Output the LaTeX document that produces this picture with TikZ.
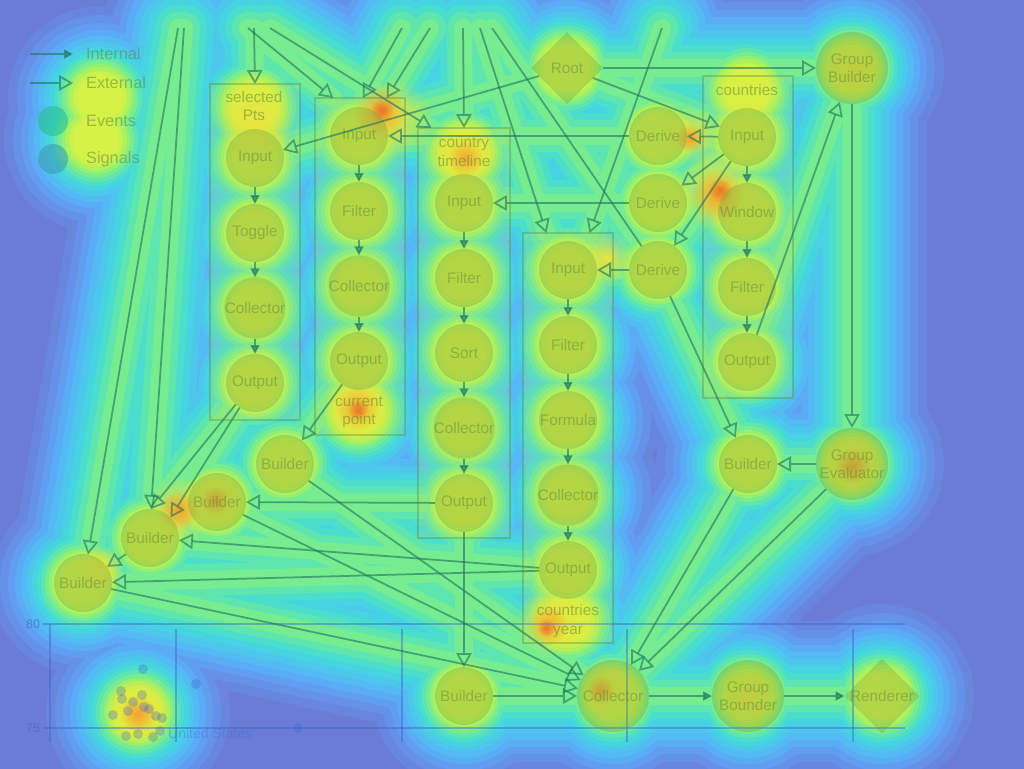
\documentclass[tikz,border=0pt]{standalone}
\usepackage{fontspec}
\setmainfont{Liberation Sans}
\usetikzlibrary{arrows.meta,shapes.geometric,backgrounds,fadings}

\definecolor{bgblue}{RGB}{106,124,214}
\definecolor{c1}{RGB}{104,134,222}
\definecolor{c2}{RGB}{101,146,232}
\definecolor{c3}{RGB}{97,158,242}
\definecolor{c4}{RGB}{90,172,246}
\definecolor{c5}{RGB}{84,186,243}
\definecolor{c6}{RGB}{77,200,236}
\definecolor{c7}{RGB}{70,212,226}
\definecolor{c8}{RGB}{75,222,205}
\definecolor{c9}{RGB}{95,230,175}
\definecolor{c10}{RGB}{120,236,145}
\definecolor{c11}{RGB}{148,240,115}
\definecolor{c12}{RGB}{175,241,95}
\definecolor{c13}{RGB}{200,242,80}
\definecolor{c14}{RGB}{215,242,70}
\definecolor{hot1}{RGB}{236,228,62}
\definecolor{hot2}{RGB}{245,160,48}
\definecolor{hot3}{RGB}{236,98,36}
\definecolor{linec}{RGB}{30,115,90}
\definecolor{nodec}{RGB}{110,165,70}
\definecolor{textc}{RGB}{90,130,60}
\definecolor{evc}{RGB}{40,190,140}
\definecolor{sigc}{RGB}{60,150,175}
\definecolor{axc}{RGB}{60,100,200}

\tikzfading[name=fuzzy, inner color=transparent!0, outer color=transparent!100]

\tikzset{
  op/.style={circle, minimum size=1.16cm, inner sep=0pt, outer sep=0pt,
    fill=nodec, fill opacity=0.35, text=textc, text opacity=0.45,
    font=\fontsize{8.7}{10.5}\selectfont, align=center},
  bigop/.style={op, minimum size=1.44cm},
  diam/.style={op, diamond, minimum size=1.44cm},
  grp/.style={draw=textc, draw opacity=0.35, line width=1pt, fill=hot1,
    fill opacity=0.15, inner sep=0pt, outer sep=0pt, minimum width=1.8cm},
  lbl/.style={text=textc, text opacity=0.5, align=center,
    font=\fontsize{8.7}{10.5}\selectfont, inner sep=1pt},
  legtxt/.style={lbl, anchor=west, font=\fontsize{9.3}{11}\selectfont},
  legdot/.style={circle, minimum size=0.6cm, inner sep=0pt, fill opacity=0.55},
  link/.style={draw=linec, opacity=0.6, line width=1pt},
  extarr/.style={link, -{Triangle[open, length=2.8mm, width=3.1mm]}},
  intarr/.style={link, -{Triangle[length=1.8mm, width=1.8mm]}},
  plainarr/.style={link},
  axis/.style={draw=axc, opacity=0.45, line width=0.8pt},
  axlbl/.style={text=axc, text opacity=0.6, font=\fontsize{7}{8}\selectfont, inner sep=1pt}
}

\begin{document}
\begin{tikzpicture}[x=0.02cm, y=-0.02cm]
\useasboundingbox (0,0) rectangle (1024,768);

% legend
\coordinate (li0) at (30,54); \coordinate (li1) at (73,54);
\coordinate (le0) at (30,83); \coordinate (le1) at (73,83);
\node[legtxt] (lint) at (84,54) {Internal};
\node[legtxt] (lext) at (84,83) {External};
\node[legdot, fill=evc] (lev) at (53,121) {};
\node[legtxt] (levt) at (84,121) {Events};
\node[legdot, fill=sigc] (lsi) at (53,159) {};
\node[legtxt] (lsit) at (84,159) {Signals};
\draw[intarr] (li0) -- (li1);
\draw[extarr] (le0) -- (le1);
\coordinate (leg) at (100,98);
\coordinate (leg2) at (96,140);

% chart underneath
\draw[axis] (43,624) -- (905,624);
\draw[axis] (43,728) -- (905,728);
\draw[axis] (50,624) -- (50,742);
\foreach \x in {176,402,627,853} \draw[axis] (\x,629) -- (\x,742);
\node[axlbl, anchor=east] (y80) at (42,624) {80};
\node[axlbl, anchor=east] (y75) at (42,728) {75};
\node[axlbl, anchor=west, text opacity=0.35, font=\fontsize{8}{9}\selectfont] (us) at (166,733) {United States};
\foreach \x/\y in {143/669,196/684,298/728,121/691,122/699,133/702,142/695,128/711,113/715,
  144/707,149/709,156/716,162/718,160/731,126/736,138/734,153/737}
  \fill[axc, opacity=0.3] (\x,\y) circle (5);
\coordinate (scat) at (138,712);

% groups
\node[grp, minimum height=6.72cm] (sp) at (255,252) {};
\node[grp, minimum height=6.74cm] (cur) at (360,266.5) {};
\node[grp, minimum width=1.84cm, minimum height=8.2cm] (tl) at (464,333) {};
\node[grp, minimum height=8.2cm] (cy) at (568,438) {};
\node[grp, minimum height=6.44cm] (co) at (748,237) {};
\node[lbl] (lsp) at (254,106) {selected\\Pts};
\node[lbl] (lcur) at (359,412) {current\\point};
\node[lbl] (ltl) at (464,152) {country\\timeline};
\node[lbl] (lcy) at (568,621) {countries\\year};
\node[lbl] (lco) at (747,90) {countries};

% operators
\foreach \n/\t [count=\i] in {spin/Input,sptog/Toggle,spcol/Collector,spout/Output}
  \node[op] (\n) at (255,83+75*\i) {\t};
\foreach \n/\t [count=\i] in {curin/Input,curfil/Filter,curcol/Collector,curout/Output}
  \node[op] (\n) at (359,61+75*\i) {\t};
\foreach \n/\t [count=\i] in {tlin/Input,tlfil/Filter,tlsort/Sort,tlcol/Collector,tlout/Output}
  \node[op] (\n) at (464,128+75*\i) {\t};
\foreach \n/\t [count=\i] in {cyin/Input,cyfil/Filter,cyfor/Formula,cycol/Collector,cyout/Output}
  \node[op] (\n) at (568,195+75*\i) {\t};
\foreach \n/\t [count=\i] in {coin/Input,cowin/Window,cofil/Filter,coout/Output}
  \node[op] (\n) at (747,62+75*\i) {\t};
\node[op] (der1) at (658,136) {Derive};
\node[op] (der2) at (658,203) {Derive};
\node[op] (der3) at (658,270) {Derive};
\node[diam] (root) at (567,68) {Root};
\node[bigop] (gb) at (852,68) {Group\\Builder};
\node[bigop] (ge) at (852,464) {Group\\Evaluator};
\node[op] (bR) at (748,464) {Builder};
\node[op] (bA) at (285,464) {Builder};
\node[op] (bB) at (217,502) {Builder};
\node[op] (bC) at (150,538) {Builder};
\node[op] (bD) at (83,583) {Builder};
\node[op] (bE) at (464,696) {Builder};
\node[bigop] (col) at (613,696) {Collector};
\node[bigop] (gbd) at (748,696) {Group\\Bounder};
\node[diam] (ren) at (882,696) {Renderer};

% loose ends at the top
\foreach \n/\x in {t1/178,t2/184,t3/254,t4/248,t5/270,t6/402,t7/430,t8/463,t9/480,t10/492,t11/662}
  \coordinate (\n) at (\x,28);

\def\edgelist{root/gb/extarr, root/coin/extarr, root/spin/extarr,
  coin/der1/extarr, coin/der2/extarr, coin/der3/extarr,
  der1/curin/extarr, der2/tlin/extarr, der3/cyin/extarr, der3/bR/extarr,
  coout/gb/extarr, gb/ge/extarr, ge/bR/extarr, bR/col/extarr, ge/col/extarr,
  spout.228/bC.88/extarr, spout.238/bC.45/extarr, bC/bD/extarr,
  curout/bA/extarr, tlout/bB/extarr, cyout/bC/extarr, cyout/bD/extarr,
  bA/col/extarr, bB/col/extarr, bD/col/extarr, tlout/bE/extarr, bE/col/extarr,
  col/gbd/intarr, gbd/ren/intarr,
  t1/bD.80/extarr, t2/bC.88/extarr, t3/sp.north/extarr, t4/cur.99/extarr,
  t5/tl.99/extarr, t6/cur.89/extarr, t7/cur.81/extarr, t8/tl.north/extarr,
  t9/cy.96/extarr, t10/der3/plainarr, t11/cy.84/extarr,
  spin/sptog/intarr, sptog/spcol/intarr, spcol/spout/intarr,
  curin/curfil/intarr, curfil/curcol/intarr, curcol/curout/intarr,
  tlin/tlfil/intarr, tlfil/tlsort/intarr, tlsort/tlcol/intarr, tlcol/tlout/intarr,
  cyin/cyfil/intarr, cyfil/cyfor/intarr, cyfor/cycol/intarr, cycol/cyout/intarr,
  coin/cowin/intarr, cowin/cofil/intarr, cofil/coout/intarr}
\def\heatlist{spin,sptog,spcol,spout,curin,curfil,curcol,curout,tlin,tlfil,tlsort,tlcol,tlout,
  cyin,cyfil,cyfor,cycol,cyout,coin,cowin,cofil,coout,der1,der2,der3,root,gb,ge,bR,
  bA,bB,bC,bD,bE,col,gbd,ren,lsp,lcur,ltl,lcy,lco,leg,leg2,scat}

\foreach \ea/\eb/\st in \edgelist \draw[\st] (\ea) -- (\eb);

% heat map
\begin{scope}[on background layer]
  \clip (-10,-10) rectangle (1034,778);
  \fill[bgblue] (-10,-10) rectangle (1034,778);
  \foreach \hc/\hw/\hr in {c1/150/92, c2/132/83, c3/116/75, c4/102/68, c5/88/62, c6/74/56,
    c7/60/51, c8/46/46, c9/32/42, c10/18/38, c11/0/34, c12/0/31, c13/0/27, c14/0/23} {
    \ifnum\hw>0
      \foreach \ea/\eb/\st in \edgelist
        \draw[\hc, line width=0.02cm*\hw, line cap=round] (\ea) -- (\eb);
    \fi
    \foreach \n in \heatlist \fill[\hc] (\n) circle (\hr);
  }
  \foreach \hx/\hy/\hr in {255/125/38, 392/118/40, 465/155/32, 715/190/40, 690/135/28,
    357/405/34, 550/622/34, 180/510/34, 217/500/30, 852/463/34, 852/72/32, 605/688/28,
    138/712/34, 748/698/28, 607/258/26, 100/568/24}
    \fill[hot1, path fading=fuzzy] (\hx,\hy) circle (\hr);
  \foreach \hx/\hy/\hr in {380/112/26, 717/195/26, 357/408/22, 465/158/18, 548/625/20,
    178/510/20, 852/466/18, 138/714/18, 690/138/14, 215/500/14, 600/690/14}
    \fill[hot2, path fading=fuzzy] (\hx,\hy) circle (\hr);
  \foreach \hx/\hy/\hr in {382/110/12, 720/190/12, 358/410/10, 546/628/9}
    \fill[hot3, path fading=fuzzy] (\hx,\hy) circle (\hr);
\end{scope}
\end{tikzpicture}
\end{document}
